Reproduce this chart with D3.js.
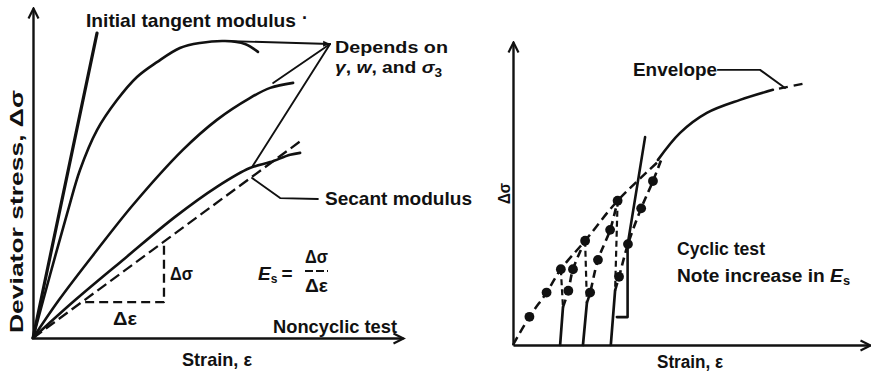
<!DOCTYPE html>
<html>
<head>
<meta charset="utf-8">
<script src="https://cdn.jsdelivr.net/npm/d3@7/dist/d3.min.js"></script>
<style>
  body { margin: 0; background: #fff; }
  svg { display: block; }
  text { font-family: "Liberation Sans", Arial, sans-serif; font-weight: bold; fill: #111; }
</style>
</head>
<body>
<div id="chart"></div>
<script>
// Values, in arbitrary strain / stress units (0-10 on both axes)

// --- left panel: noncyclic test ---
const tangentLine = [[0, 0], [1.73, 9.24]];
const curvePeak = [[0, 0], [0.46, 1.91], [0.95, 3.88], [1.27, 5.09], [1.73, 6.30], [2.27, 7.21],
                   [2.81, 7.91], [3.35, 8.36], [3.97, 8.79], [4.51, 8.94], [5.19, 9.0], [5.73, 8.91], [6.08, 8.67]];
const curveMid = [[0, 0], [0.70, 1.15], [1.70, 2.62], [2.70, 4.03], [4.05, 5.70], [4.97, 6.61],
                  [5.86, 7.27], [6.41, 7.58], [7.03, 7.73]];
const curveLow = [[0, 0], [1.14, 1.15], [2.49, 2.42], [3.84, 3.67], [4.97, 4.58], [5.86, 5.15],
                  [6.41, 5.33], [6.95, 5.55], [7.22, 5.61]];
const secantLine = [[0, 0], [7.27, 6.0]];
const stepStrain = [1.41, 3.54];   // horizontal leg of the slope triangle
const stepStress = [1.09, 2.91];   // vertical leg of the slope triangle
const dependsLeaders = [
  [[5.19, 9.0], [8.03, 8.91]],
  [[6.49, 7.73], [8.03, 8.91]],
  [[5.92, 5.18], [8.03, 8.91]]
];
const secantLeader = [[5.92, 4.85], [6.68, 4.24], [7.70, 4.21]];

// --- right panel: cyclic test ---
const firstLoading = [[0, 0], [0.46, 0.93], [0.94, 1.73], [1.34, 2.50], [2.02, 3.44], [2.93, 4.76], [4.12, 6.11]];
const unloadDashed = [
  [[1.34, 2.50], [1.40, 1.25]],
  [[2.02, 3.44], [2.07, 1.39]],
  [[2.93, 4.76], [2.86, 1.80]]
];
const unloadSolid = [
  [[1.40, 1.25], [1.32, 0]],
  [[2.07, 1.39], [1.96, 0]],
  [[2.86, 1.80], [2.74, 0]]
];
const reloadings = [
  [[1.40, 1.25], [1.55, 1.79], [1.68, 2.50], [2.02, 3.44]],
  [[2.07, 1.39], [2.16, 1.73], [2.38, 2.81], [2.72, 3.80], [2.93, 4.76]],
  [[2.86, 1.80], [2.97, 2.25], [3.22, 3.33], [3.59, 4.51], [3.92, 5.41], [4.17, 6.17]]
];
const cycleDots = [[0.46, 0.93], [0.94, 1.73], [1.34, 2.50], [2.02, 3.44], [2.93, 4.76],
                   [1.55, 1.79], [1.68, 2.50], [2.16, 1.73], [2.38, 2.81], [2.72, 3.80],
                   [2.97, 2.25], [3.22, 3.33], [3.59, 4.51], [3.92, 5.41]];
const cyclicTangent = [[3.70, 6.86], [3.21, 3.30], [3.21, 0.92], [2.91, 0.92]];
const envelope = [[4.06, 6.11], [4.68, 7.00], [5.43, 7.66], [6.36, 8.09], [7.28, 8.42]];
const envelopeTail = [[7.45, 8.46], [8.24, 8.65]];
const envelopeLeader = [[5.74, 9.08], [6.92, 9.08], [7.62, 8.48]];

const width = 871, height = 371;

const svg = d3.select("#chart").append("svg")
  .attr("width", width)
  .attr("height", height);

svg.append("rect").attr("width", width).attr("height", height).attr("fill", "#fff");

const defs = svg.append("defs");
defs.append("marker")
  .attr("id", "axisArrow")
  .attr("viewBox", "-12 -7 14 14")
  .attr("markerWidth", 14).attr("markerHeight", 14)
  .attr("markerUnits", "userSpaceOnUse")
  .attr("orient", "auto")
  .append("path")
  .attr("d", "M-10,-5L0,0L-10,5")
  .attr("fill", "none").attr("stroke", "#111").attr("stroke-width", 2.2);
defs.append("marker")
  .attr("id", "tipArrow")
  .attr("viewBox", "-8 -4 9 8")
  .attr("markerWidth", 9).attr("markerHeight", 8)
  .attr("markerUnits", "userSpaceOnUse")
  .attr("orient", "auto")
  .append("path")
  .attr("d", "M-7,-3L0,0L-7,3Z")
  .attr("fill", "#111");

// scales for each panel
const xL = d3.scaleLinear().domain([0, 10]).range([33, 403]);
const yL = d3.scaleLinear().domain([0, 10]).range([338, 8]);
const xR = d3.scaleLinear().domain([0, 10]).range([513, 870]);
const yR = d3.scaleLinear().domain([0, 10]).range([345, 42]);

function drawAxes(x, y) {
  const gx = svg.append("g").attr("transform", `translate(0,${y(0)})`)
    .call(d3.axisBottom(x).tickValues([]).tickSizeOuter(0));
  const gy = svg.append("g").attr("transform", `translate(${x(0)},0)`)
    .call(d3.axisLeft(y).tickValues([]).tickSizeOuter(0));
  [gx, gy].forEach(g => g.select(".domain")
    .attr("stroke", "#111").attr("stroke-width", 2.4)
    .attr("marker-end", "url(#axisArrow)"));
}

function path(data, x, y, opts = {}) {
  const line = d3.line().x(d => x(d[0])).y(d => y(d[1]))
    .curve(opts.smooth ? d3.curveCatmullRom.alpha(0.5) : d3.curveLinear);
  const p = svg.append("path")
    .attr("d", line(data))
    .attr("fill", "none")
    .attr("stroke", "#111")
    .attr("stroke-width", opts.w || 2.6)
    .attr("stroke-linecap", "round")
    .attr("stroke-linejoin", "round");
  if (opts.dash) p.attr("stroke-dasharray", opts.dash).attr("stroke-linecap", "butt");
  if (opts.marker) p.attr("marker-end", `url(#${opts.marker})`);
  return p;
}

function label(text, x, y, size, len, opts = {}) {
  const t = svg.append("text")
    .attr("x", x).attr("y", y)
    .style("font-size", size + "px")
    .text(text);
  if (len) t.attr("textLength", len).attr("lengthAdjust", "spacingAndGlyphs");
  if (opts.italic) t.style("font-style", "italic");
  if (opts.rotate) t.attr("x", 0).attr("y", 0)
    .attr("transform", `translate(${x},${y}) rotate(-90)`);
  return t;
}

// ===== Left panel =====
drawAxes(xL, yL);
path(tangentLine, xL, yL, { w: 3.2 });
path(curvePeak, xL, yL, { smooth: true });
path(curveMid, xL, yL, { smooth: true });
path(curveLow, xL, yL, { smooth: true });
path(secantLine, xL, yL, { dash: "11,5", w: 2.3 });
path([[stepStrain[0], stepStress[0]], [stepStrain[1], stepStress[0]], [stepStrain[1], stepStress[1]]],
     xL, yL, { dash: "9,5", w: 2.3 });
dependsLeaders.forEach((d, i) => path(d, xL, yL, { w: 1.9, marker: i === 0 ? "tipArrow" : null }));
path(secantLeader, xL, yL, { w: 1.9 });

label("Initial tangent modulus", 86, 27, 19, 210);
label("·", 302, 24, 18);
label("Depends on", 335, 53, 17, 113);
const dep = svg.append("text").attr("x", 335).attr("y", 73).style("font-size", "17px")
  .attr("textLength", 107).attr("lengthAdjust", "spacingAndGlyphs");
dep.append("tspan").style("font-style", "italic").text("γ");
dep.append("tspan").text(", ");
dep.append("tspan").style("font-style", "italic").text("w");
dep.append("tspan").text(", and ");
dep.append("tspan").style("font-style", "italic").text("σ");
dep.append("tspan").attr("dy", 4).style("font-size", "12px").text("3");

label("Secant modulus", 325, 205, 19, 147);
label("Δσ", 170, 280, 18, 23);
label("Δε", 113, 325, 18, 24);

const es = svg.append("text").attr("x", 258).attr("y", 280).style("font-size", "19px");
es.append("tspan").style("font-style", "italic").text("E");
es.append("tspan").attr("dy", 3).style("font-size", "12px").text("s");
es.append("tspan").attr("dy", -3).attr("dx", 4).text("=");
label("Δσ", 305, 263, 18, 23);
svg.append("line").attr("x1", 305).attr("x2", 328).attr("y1", 271).attr("y2", 271)
  .attr("stroke", "#111").attr("stroke-width", 1.8).attr("stroke-dasharray", "8,3");
label("Δε", 305, 292, 18, 23);

label("Noncyclic test", 273, 333, 19, 124);
label("Strain, ε", 182, 366, 19, 70);
label("Deviator stress, Δσ", 23, 333, 19, 243, { rotate: true });

// ===== Right panel =====
drawAxes(xR, yR);
path(firstLoading, xR, yR, { smooth: true, dash: "9,5", w: 2.5 });
unloadDashed.forEach(d => path(d, xR, yR, { dash: "6,4", w: 2.2 }));
unloadSolid.forEach(d => path(d, xR, yR, { w: 2.7 }));
reloadings.forEach(d => path(d, xR, yR, { smooth: true, dash: "8,5", w: 2.6 }));
path(cyclicTangent, xR, yR, { w: 2.6 });
path(envelope, xR, yR, { smooth: true, w: 2.6 });
path(envelopeTail, xR, yR, { dash: "9,6", w: 2.4 });
path(envelopeLeader, xR, yR, { w: 1.9 });

svg.selectAll(".cycle-dot")
  .data(cycleDots)
  .enter().append("circle")
  .attr("class", "cycle-dot")
  .attr("cx", d => xR(d[0]))
  .attr("cy", d => yR(d[1]))
  .attr("r", 4.9)
  .attr("fill", "#111");

label("Δσ", 510, 204, 17, 21, { rotate: true });
label("Envelope", 633, 76, 18, 84);
label("Cyclic test", 677, 255, 18, 88);
const note = svg.append("text").attr("x", 677).attr("y", 282).style("font-size", "18px")
  .attr("textLength", 173).attr("lengthAdjust", "spacingAndGlyphs");
note.append("tspan").text("Note increase in ");
note.append("tspan").style("font-style", "italic").text("E");
note.append("tspan").attr("dy", 3).style("font-size", "12px").text("s");
label("Strain, ε", 657, 368, 18, 66);
</script>
</body>
</html>
